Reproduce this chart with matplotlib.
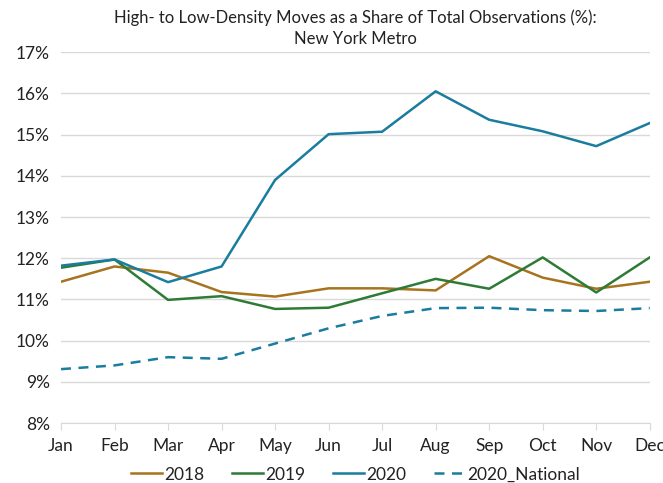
import matplotlib
matplotlib.use("Agg")
import matplotlib.pyplot as plt
from matplotlib.ticker import FuncFormatter

months = ["Jan", "Feb", "Mar", "Apr", "May", "Jun", "Jul", "Aug", "Sep", "Oct", "Nov", "Dec"]
s2018 = [11.43, 11.80, 11.65, 11.18, 11.07, 11.27, 11.27, 11.22, 12.05, 11.53, 11.26, 11.43]
s2019 = [11.77, 11.97, 10.99, 11.08, 10.77, 10.80, 11.15, 11.50, 11.26, 12.02, 11.17, 12.02]
s2020 = [11.82, 11.97, 11.42, 11.80, 13.90, 15.01, 15.07, 16.05, 15.36, 15.08, 14.72, 15.28]
s2020_nat = [9.31, 9.40, 9.60, 9.56, 9.93, 10.30, 10.60, 10.79, 10.80, 10.74, 10.72, 10.79]
yticks = [8, 9, 10, 11, 12, 13, 14, 15, 16, 17]

plt.rcParams['font.family'] = ['Lato', 'DejaVu Sans']

fig = plt.figure(figsize=(6.63, 4.83), dpi=100)
ax = fig.add_axes([0.092, 0.124, 0.888, 0.768])

x = list(range(len(months)))
ax.plot(x, s2018, color="#A8731E", lw=1.8, label="2018")
ax.plot(x, s2019, color="#2E7B35", lw=1.8, label="2019")
ax.plot(x, s2020, color="#1A7C9E", lw=1.8, label="2020")
ax.plot(x, s2020_nat, color="#1A7C9E", lw=1.8, ls=(0, (4, 3)), label="2020_National")

ax.set_xlim(0, len(months) - 1)
ax.set_ylim(8, 17)
ax.set_yticks(yticks)
ax.yaxis.set_major_formatter(FuncFormatter(lambda v, p: f"{v:.0f}%"))
ax.set_xticks(x)
ax.set_xticklabels(months)

ax.grid(axis='y', color="#D9D9D9", lw=1)
ax.set_axisbelow(True)
for s in ["top", "right", "left"]:
    ax.spines[s].set_visible(False)
ax.spines["bottom"].set_color("#D9D9D9")
ax.tick_params(axis='y', length=0, labelsize=12.5, colors="#222222", pad=8)
ax.tick_params(axis='x', length=5, color="#D9D9D9", labelsize=12.5, colors="#222222", pad=6)

ax.set_title("High- to Low-Density Moves as a Share of Total Observations (%):\nNew York Metro",
             fontsize=12, color="#222222", pad=6, linespacing=1.4)

leg = ax.legend(loc="upper center", bbox_to_anchor=(0.5, -0.075), ncol=4, frameon=False,
                fontsize=12.5, handlelength=1.8, handletextpad=0.1, columnspacing=1.6,
                labelcolor="#222222")

fig.savefig("out.png", dpi=100)
